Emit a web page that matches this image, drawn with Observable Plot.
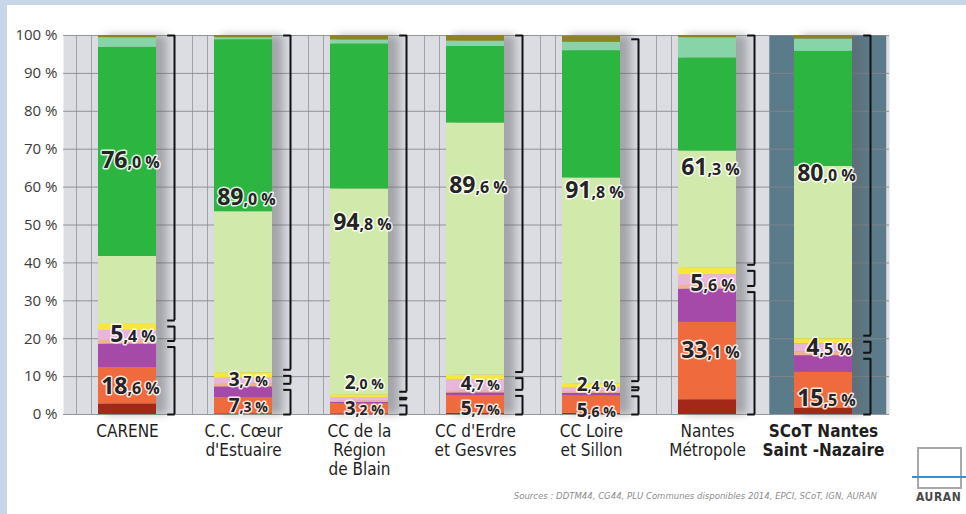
<!DOCTYPE html>
<html>
<head>
<meta charset="utf-8">
<script src="https://cdn.jsdelivr.net/npm/d3@7"></script>
<script src="https://cdn.jsdelivr.net/npm/@observablehq/plot@0.6"></script>
<style>
  body { margin: 0; background: #fff; }
  #wrap { position: relative; width: 966px; height: 514px; overflow: hidden; background: #fff; font-family: "Open Sans", sans-serif; }
  #chart svg { display: block; }
  .blue-top { position: absolute; left: 0; top: 0; width: 966px; height: 5px; background: #c7d6e9; }
  .blue-left { position: absolute; left: 0; top: 0; width: 7px; height: 514px; background: #c7d6e9; }
  #caption { position: absolute; right: 89px; top: 490px; font-family: "Liberation Sans Narrow", "DejaVu Sans Condensed", sans-serif; font-style: italic; font-size: 9.5px; color: #8d8d8d; white-space: nowrap; }
  #logo-box { position: absolute; left: 917px; top: 447px; width: 41px; height: 38px; border: 2px solid #a8a8a8; }
  #logo-line { position: absolute; left: 912px; top: 476px; width: 54px; height: 2px; background: #2f93d6; }
  #logo-text { position: absolute; left: 916px; top: 490px; font-family: "Liberation Sans Narrow", "DejaVu Sans Condensed", sans-serif; font-size: 12px; font-weight: 700; color: #4a4a4a; letter-spacing: 0.6px; }
</style>
</head>
<body>
<div id="wrap">
  <div id="chart"></div>
  <div class="blue-top"></div>
  <div class="blue-left"></div>
  <div id="caption">Sources : DDTM44, CG44, PLU Communes disponibles 2014, EPCI, SCoT, IGN, AURAN</div>
  <div id="logo-box"></div>
  <div id="logo-line"></div>
  <div id="logo-text">AURAN</div>
</div>
<script>
// ---- Data (values in % of each territory) ----
const territories = [
  "CARENE",
  "C.C. Cœur\nd'Estuaire",
  "CC de la\nRégion\nde Blain",
  "CC d'Erdre\net Gesvres",
  "CC Loire\net Sillon",
  "Nantes\nMétropole",
  "SCoT Nantes\nSaint -Nazaire"
];
const highlighted = "SCoT Nantes\nSaint -Nazaire";

const rougeFonce = [2.8, 0.2, 0.2, 0.3, 0.3, 3.9, 1.6];
const orange     = [9.6, 4.2, 2.6, 4.7, 4.6, 20.4, 9.6];
const violet     = [6.2, 2.9, 0.4, 0.7, 0.7, 8.8, 4.3];
const saumon     = [1.0, 0.8, 0.4, 0.5, 0.5, 1.0, 0.9];
const rose       = [2.6, 1.5, 0.9, 3.0, 1.0, 2.8, 2.3];
const jaune      = [1.8, 1.4, 0.7, 1.2, 0.9, 1.8, 1.3];
const vertClair  = [17.7, 42.5, 54.3, 66.5, 54.4, 30.8, 45.5];
const vert       = [55.2, 45.4, 38.3, 20.2, 33.6, 24.6, 30.3];
const vertEau    = [2.5, 0.5, 1.0, 1.4, 2.2, 5.3, 3.3];
const olive      = [0.6, 0.6, 1.2, 1.5, 1.6, 0.6, 0.9];

const seriesNames  = ["rouge foncé", "orange", "violet", "saumon", "rose", "jaune", "vert clair", "vert", "vert d'eau", "olive"];
const seriesValues = [rougeFonce, orange, violet, saumon, rose, jaune, vertClair, vert, vertEau, olive];
const seriesColors = ["#a3281a", "#ef6b3e", "#a64aa9", "#f3b28f", "#e8b6d8", "#f5e83a", "#d1e9aa", "#2cb540", "#86d4a7", "#8d8322"];

// series grouped under each bracket
const groupA = [0, 1, 2];
const groupB = [3, 4, 5];
const groupC = [6, 7, 8, 9];

// vertical anchor (in %) of the bracket labels
const labelYA = [7.4, 2.2, 1.4, 1.6, 1.0, 16.9, 4.2];
const labelYB = [21.1, 9.2, 8.4, 8.1, 7.9, 34.6, 17.7];
const labelYC = [67.0, 57.3, 50.7, 60.4, 59.1, 65.2, 63.6];

const yTicks = [0, 10, 20, 30, 40, 50, 60, 70, 80, 90, 100];

// ---- Derived tables ----
const rows = territories.flatMap((t, i) =>
  seriesNames.map((s, k) => ({territory: t, serie: s, value: seriesValues[k][i]}))
);
const sumOf = (idx, i) => d3.sum(idx, k => seriesValues[k][i]);
const groups = territories.flatMap((t, i) => {
  const a = sumOf(groupA, i), b = sumOf(groupB, i), c = sumOf(groupC, i);
  const tight = a + b < 12;
  return [
    {territory: t, lo: 0, hi: a, value: a, labelY: labelYA[i], small: tight},
    {territory: t, lo: a, hi: a + b, value: b, labelY: labelYB[i], small: tight},
    {territory: t, lo: a + b, hi: a + b + c, value: c, labelY: labelYC[i], small: false}
  ];
});
const gap = 0.8;
const yLo = d => (d.lo < 0.01 ? d.lo : d.lo + gap);
const yHi = d => (d.hi > 99.95 ? d.hi : d.hi - gap);
const bracketEnds = groups.flatMap(d => [{territory: d.territory, v: yLo(d)}, {territory: d.territory, v: yHi(d)}]);
const intPart = d => d.value.toFixed(1).split(".")[0];
const decPart = d => "," + d.value.toFixed(1).split(".")[1] + " %";

// ---- Layout ----
const W = 966, H = 486, ML = 66, MR = 82, MT = 35, MB = 72;
const step = (W - ML - MR) / territories.length; // paddingInner .5, paddingOuter .25
const bw = step * 0.5;
const bracketDx = 47;
const condensed = "'Liberation Sans Narrow', 'DejaVu Sans Condensed', 'Open Sans', sans-serif";
const labelStyle = {fontFamily: "'Open Sans', sans-serif", fontWeight: 700, fill: "#242424", stroke: "white", strokeWidth: 3, strokeOpacity: 0.85, paintOrder: "stroke"};

const labelMarks = [];
for (const small of [false, true]) {
  const big = small ? 19 : 23, little = small ? 14 : 16;
  for (const twoDigits of [true, false]) {
    const data = groups.filter(d => d.small === small && (intPart(d).length > 1) === twoDigits);
    const off = twoDigits ? 0 : -4;
    labelMarks.push(
      Plot.text(data, {x: "territory", y: "labelY", text: decPart, textAnchor: "start", dx: off, dy: 0.32 * (big - little), fontSize: little, ...labelStyle}),
      Plot.text(data, {x: "territory", y: "labelY", text: intPart, textAnchor: "end", dx: off, fontSize: big, ...labelStyle})
    );
  }
}

const plot = Plot.plot({
  width: W, height: H,
  marginLeft: ML, marginRight: MR, marginTop: MT, marginBottom: MB,
  style: {fontFamily: "'Open Sans', sans-serif", fontSize: "15px", color: "#3b3b3b", background: "transparent", overflow: "visible"},
  x: {domain: territories, paddingInner: 0.5, paddingOuter: 0.25, axis: null},
  y: {domain: [0, 100], ticks: yTicks, tickFormat: d => `${d} %`, tickSize: 0, tickPadding: 9, label: null},
  color: {domain: seriesNames, range: seriesColors},
  marks: [
    Plot.frame({fill: "#dcdde2", stroke: "none", insetLeft: -3, insetRight: -5}),
    Plot.ruleX(territories, {x: d => d, dx: -51, stroke: "#a2a3a9"}),
    Plot.ruleX(territories, {x: d => d, dx: -36, stroke: "#a2a3a9"}),
    Plot.barY([highlighted], {x: d => d, y1: 0, y2: 100, fill: "#5c7b8a", insetLeft: -24.7, insetRight: -34.2}),
    Plot.ruleY(yTicks, {stroke: "#85868c", strokeOpacity: 0.85, insetLeft: -3, insetRight: -5}),
    Plot.barY(territories, {x: d => d, y1: 0, y2: 100, fill: "#5f6169", fillOpacity: 0.45, dx: 7, insetRight: -4}),
    Plot.barY(rows, {x: "territory", y: "value", fill: "serie"}),
    Plot.ruleX(groups, {x: "territory", y1: yLo, y2: yHi, dx: bracketDx, stroke: "#111", strokeWidth: 2}),
    Plot.tickY(bracketEnds, {x: "territory", y: "v", dx: bracketDx - bw / 2, insetLeft: bw - 7, insetRight: -1, stroke: "#111", strokeWidth: 2}),
    ...labelMarks,
    Plot.text(territories.filter(t => t !== highlighted), {x: d => d, text: d => d, frameAnchor: "bottom", lineAnchor: "top", dy: 9, fontSize: 17, lineHeight: 1.12, fill: "#1f1f1f", fontFamily: condensed}),
    Plot.text([highlighted], {x: d => d, text: d => d, frameAnchor: "bottom", lineAnchor: "top", dy: 9, fontSize: 17, lineHeight: 1.12, fill: "#1f1f1f", fontFamily: condensed, fontWeight: 700})
  ]
});
document.getElementById("chart").appendChild(plot);
// soften the bar shadows
plot.querySelectorAll('g[fill="#5f6169"]').forEach(g => g.style.filter = "blur(4px)");
</script>
</body>
</html>
